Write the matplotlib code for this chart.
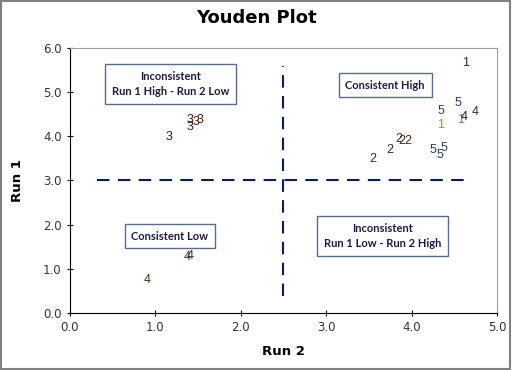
import matplotlib
matplotlib.use('Agg')
import matplotlib.pyplot as plt

# lab id, run 2 (x), run 1 (y), colour
labels = ['1', '1', '1', '4', '4', '5', '5', '5', '5', '5',
          '2', '2', '2', '2', '2', '3', '3', '3', '3', '3', '4', '4', '4']
run2 = [4.63, 4.34, 4.57, 4.62, 4.75, 4.34, 4.54, 4.25, 4.38, 4.33,
        3.55, 3.74, 3.85, 3.88, 3.95, 1.16, 1.40, 1.40, 1.48, 1.52, 1.37, 1.41, 0.90]
run1 = [5.66, 4.26, 4.37, 4.44, 4.55, 4.57, 4.75, 3.69, 3.74, 3.58,
        3.49, 3.69, 3.95, 3.90, 3.90, 3.98, 4.37, 4.21, 4.32, 4.37, 1.26, 1.30, 0.74]
colors = ['#5a1a10', '#d07a10', '#2a8fa0', '#2a1a10', '#3a2a40', '#2a3a70', '#2a3a70',
          '#2a3a70', '#2a3a70', '#2a3a70', '#3a2a20', '#3a2a20', '#3a2a20', '#3a2a20',
          '#3a2a20', '#4a1a10', '#4a1a10', '#4a1a10', '#4a1a10', '#4a1a10', '#3a2a40',
          '#3a2a40', '#4a2a10']

# quadrant split lines
split_x = 2.5
split_y = 3.0

fig = plt.figure(figsize=(5.12, 3.70), dpi=100)
ax = fig.add_axes([0.1367, 0.1541, 0.834, 0.7162])

for lab, x, y, c in zip(labels, run2, run1, colors):
    ax.text(x, y, lab, color=c, fontsize=9, ha='center', va='center',
            family='Liberation Sans')

ax.plot([split_x, split_x], [0.38, 5.6], color='#0a1a6a', lw=1.5, dashes=(6, 4))
ax.plot([0.32, 4.65], [split_y, split_y], color='#0a1a6a', lw=1.5, dashes=(6, 4))

box = dict(boxstyle='square,pad=0.6', fc='white', ec='#5a6a90', lw=1)
tkw = dict(fontsize=8, color='#1a1a4a', ha='center', va='center',
           fontweight='bold', family='Lato', bbox=box, linespacing=1.5)
ax.text(1.18, 5.18, 'Inconsistent\nRun 1 High - Run 2 Low', **tkw)
ax.text(3.69, 5.16, 'Consistent High', **tkw)
ax.text(1.17, 1.74, 'Consistent Low', **tkw)
ax.text(3.66, 1.74, 'Inconsistent\nRun 1 Low - Run 2 High', **tkw)

ax.set_xlim(0, 5)
ax.set_ylim(0, 6)
ax.set_xticks([0, 1, 2, 3, 4, 5])
ax.set_yticks([0, 1, 2, 3, 4, 5, 6])
ax.set_xticklabels(['%.1f' % v for v in range(6)])
ax.set_yticklabels(['%.1f' % v for v in range(7)])
ax.tick_params(direction='inout', length=5, labelsize=8.5, labelcolor='#333333')
ax.spines['top'].set_color('#a0a0a0')
ax.spines['right'].set_color('#a0a0a0')

ax.set_xlabel('Run 2', fontsize=9.5, fontweight='bold', labelpad=8)
ax.set_ylabel('Run 1', fontsize=9.5, fontweight='bold', labelpad=14)
fig.suptitle('Youden Plot', fontsize=13, fontweight='bold', y=0.975)

fig.patches.append(plt.Rectangle((0.002, 0.003), 0.995, 0.994, transform=fig.transFigure,
                                 fill=False, ec='#808080', lw=1.5))

fig.savefig('out.png', dpi=100)
